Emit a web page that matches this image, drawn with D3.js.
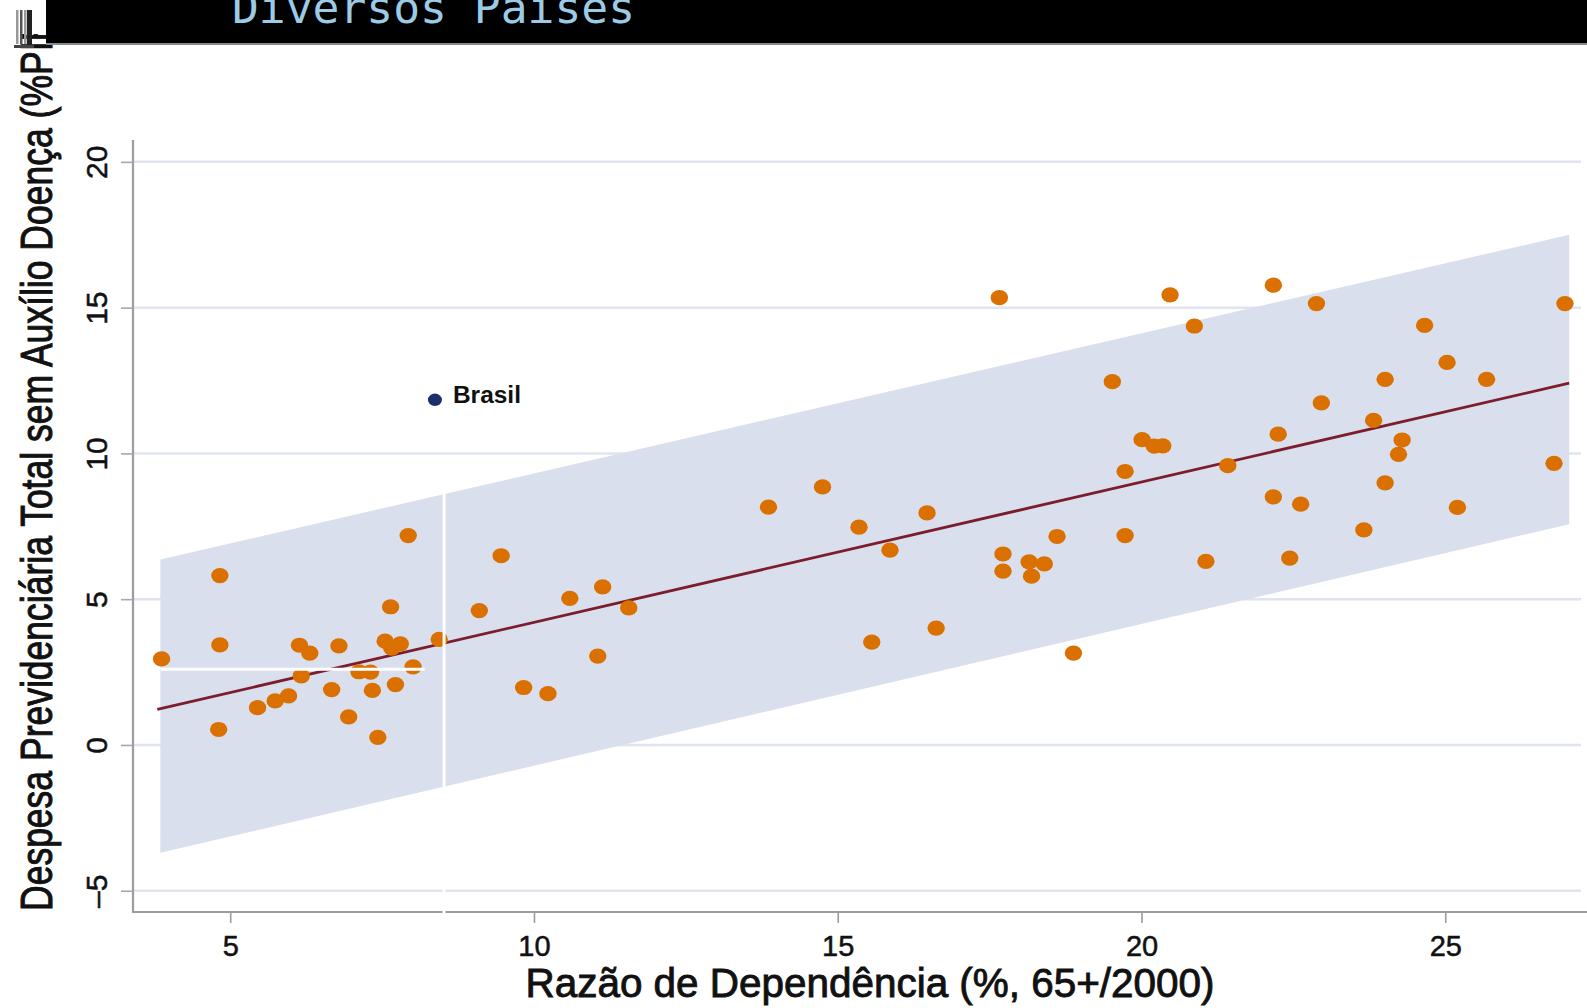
<!DOCTYPE html>
<html>
<head>
<meta charset="utf-8">
<script src="https://cdn.jsdelivr.net/npm/d3@7"></script>
<style>
  html, body { margin: 0; padding: 0; background: #ffffff; overflow: hidden; }
  svg { display: block; }
</style>
</head>
<body>
<script>
// Dependency ratio (% of 65+ in 2000) vs. total pension spending excluding sickness benefits (% GDP)
const dependencyRatio = [
  3.87, 4.83, 4.83, 4.81, 5.45, 5.74, 5.96, 6.14, 6.31, 6.17,
  6.67, 6.79, 6.95, 7.12, 7.31, 7.34, 7.43, 7.55, 7.64, 7.66,
  7.80, 7.72, 7.93, 8.01, 8.44, 9.10, 9.46, 9.83, 10.23, 10.59,
  11.05, 11.13, 11.56, 13.86, 14.75, 15.35, 15.56, 15.86, 16.47, 16.62,
  17.66, 17.72, 17.72, 18.15, 18.19, 18.40, 18.61, 18.88, 19.52, 19.73,
  19.73, 20.01, 20.21, 20.35, 20.47, 20.87, 21.06, 21.42, 22.17, 22.17,
  22.25, 22.44, 22.62, 22.88, 22.96, 23.66, 23.82, 24.01, 24.01, 24.23,
  24.29, 24.66, 25.03, 25.20, 25.68, 26.79, 26.97
];
const pensionSpending = [
  2.95, 5.81, 3.43, 0.53, 1.28, 1.51, 1.68, 3.42, 3.15, 2.37,
  1.90, 3.40, 0.96, 2.51, 2.50, 1.87, 0.26, 3.56, 4.74, 3.32,
  3.47, 2.07, 7.18, 2.68, 3.62, 4.61, 6.49, 1.97, 1.76, 5.03,
  3.05, 5.42, 4.70, 8.16, 8.85, 7.47, 3.53, 6.68, 7.96, 4.01,
  15.34, 6.55, 5.96, 6.28, 5.79, 6.21, 7.15, 3.15, 12.46, 9.38,
  7.18, 10.47, 10.25, 10.26, 15.44, 14.37, 6.30, 9.58, 15.77, 8.51,
  10.66, 6.41, 8.26, 15.14, 11.73, 7.38, 11.13, 12.54, 8.99, 9.97,
  10.46, 14.39, 13.12, 8.15, 12.54, 9.66, 15.14
];

// Highlighted country
const highlightName = ["Brasil"];
const highlightX = [8.37];
const highlightY = [11.84];

// Linear fit and its prediction band
const fitX = [3.8, 27.04];
const fitY = [1.22, 12.41];
const bandX = [3.85, 27.04];
const bandUpper = [6.36, 17.50];
const bandLower = [-3.70, 7.57];

// Axis ticks
const xTicks = [5, 10, 15, 20, 25];
const yTicks = [-5, 0, 5, 10, 15, 20];

const chartTitle = "Diversos Países";
const xTitle = "Razão de Dependência (%, 65+/2000)";
const yTitle = "Despesa Previdenciária Total sem Auxílio Doença (%PIB)";

const W = 1587, H = 1008;
const plot = { left: 133, right: 1585, top: 140, bottom: 912 };

const svg = d3.select("body").append("svg")
  .attr("width", W).attr("height", H);

const x = d3.scaleLinear().domain([3.4, 27.3]).range([plot.left, plot.right]);
const y = d3.scaleLinear().domain([-5.73, 20.75]).range([plot.bottom, plot.top]);

const sansFont = "'Liberation Sans Narrow', 'Liberation Sans', Arial, sans-serif";
const ink = "#111";

// Horizontal grid lines
svg.append("g").selectAll("line").data(yTicks).join("line")
  .attr("x1", plot.left).attr("x2", 1581)
  .attr("y1", d => y(d)).attr("y2", d => y(d))
  .attr("stroke", "#dfe4ef").attr("stroke-width", 2.5);

// Prediction band
const bandData = bandX.map((bx, i) => ({ x: bx, lo: bandLower[i], hi: bandUpper[i] }));
svg.append("path").datum(bandData)
  .attr("d", d3.area().x(d => x(d.x)).y0(d => y(d.lo)).y1(d => y(d.hi)))
  .attr("fill", "#d9dfec");

// Fitted line
const fitData = fitX.map((fx, i) => ({ x: fx, y: fitY[i] }));
svg.append("path").datum(fitData)
  .attr("d", d3.line().x(d => x(d.x)).y(d => y(d.y)))
  .attr("fill", "none").attr("stroke", "#7c1d2e").attr("stroke-width", 2.8);

// Country points
const pts = dependencyRatio.map((dx, i) => ({ x: dx, y: pensionSpending[i] }));
svg.append("g").selectAll("ellipse").data(pts).join("ellipse")
  .attr("cx", d => x(d.x)).attr("cy", d => y(d.y))
  .attr("rx", 8.7).attr("ry", 7.6)
  .attr("fill", "#d97000");

// Highlighted point and label
const hl = highlightX.map((hx, i) => ({ x: hx, y: highlightY[i], name: highlightName[i] }));
svg.append("g").selectAll("ellipse").data(hl).join("ellipse")
  .attr("cx", d => x(d.x)).attr("cy", d => y(d.y))
  .attr("rx", 7).attr("ry", 6.2)
  .attr("fill", "#1c2f6b");
svg.append("g").selectAll("text").data(hl).join("text")
  .attr("x", d => x(d.x) + 18).attr("y", d => y(d.y) + 3)
  .attr("font-family", sansFont).attr("font-weight", "bold")
  .attr("font-size", 24).attr("fill", ink)
  .attr("textLength", 68).attr("lengthAdjust", "spacingAndGlyphs")
  .text(d => d.name);

// Crosshair lines left over on the plot area
svg.append("line")
  .attr("x1", x(8.52)).attr("x2", x(8.52))
  .attr("y1", y(9.9)).attr("y2", plot.bottom + 4)
  .attr("stroke", "#ffffff").attr("stroke-width", 3);
svg.append("line")
  .attr("x1", x(3.85)).attr("x2", x(8.2))
  .attr("y1", y(2.6)).attr("y2", y(2.6))
  .attr("stroke", "#ffffff").attr("stroke-width", 3);

// Axis lines
svg.append("line")
  .attr("x1", plot.left).attr("x2", plot.left)
  .attr("y1", plot.top).attr("y2", plot.bottom + 1)
  .attr("stroke", "#9c9c9c").attr("stroke-width", 2.2);
svg.append("line")
  .attr("x1", plot.left - 1).attr("x2", W)
  .attr("y1", plot.bottom).attr("y2", plot.bottom)
  .attr("stroke", "#9c9c9c").attr("stroke-width", 2.2);
// Gap in the bottom axis where the crosshair crosses
svg.append("line")
  .attr("x1", x(8.52)).attr("x2", x(8.52))
  .attr("y1", plot.bottom - 2).attr("y2", plot.bottom + 2)
  .attr("stroke", "#ffffff").attr("stroke-width", 3);

// X axis ticks and labels
const xAxis = d3.axisBottom(x).tickValues(xTicks).tickSize(10).tickPadding(12).tickFormat(d3.format("d"));
const gx = svg.append("g").attr("transform", `translate(0,${plot.bottom + 1})`).call(xAxis);
gx.select(".domain").remove();
gx.selectAll(".tick line").attr("stroke", "#9c9c9c").attr("stroke-width", 1.6);
gx.selectAll(".tick text")
  .attr("font-family", sansFont).attr("font-size", 29).attr("fill", ink)
  .attr("stroke", ink).attr("stroke-width", 0.5)
  .attr("dy", "0.72em");

// Y axis ticks and rotated labels
const yAxis = d3.axisLeft(y).tickValues(yTicks).tickSize(12).tickFormat(d => d < 0 ? "–" + Math.abs(d) : String(d));
const gy = svg.append("g").attr("transform", `translate(${plot.left},0)`).call(yAxis);
gy.select(".domain").remove();
gy.selectAll(".tick line").attr("stroke", "#a8a8a8").attr("stroke-width", 1.6);
gy.selectAll(".tick text")
  .attr("font-family", sansFont).attr("font-size", 30).attr("fill", ink)
  .attr("stroke", ink).attr("stroke-width", 0.5)
  .attr("text-anchor", "middle").attr("x", 0).attr("dy", 0)
  .attr("transform", "translate(-26,0) rotate(-90)");

// Axis titles
svg.append("text")
  .attr("x", 870).attr("y", 997)
  .attr("text-anchor", "middle")
  .attr("font-family", sansFont).attr("font-size", 40).attr("fill", ink)
  .attr("stroke", ink).attr("stroke-width", 0.9)
  .attr("textLength", 689).attr("lengthAdjust", "spacingAndGlyphs")
  .text(xTitle);

svg.append("text")
  .attr("transform", "translate(52,911) rotate(-90)")
  .attr("x", 0).attr("y", 0)
  .attr("text-anchor", "start")
  .attr("font-family", sansFont).attr("font-size", 45).attr("fill", ink)
  .attr("stroke", ink).attr("stroke-width", 1)
  .attr("textLength", 905).attr("lengthAdjust", "spacingAndGlyphs")
  .text(yTitle);

// Header bar with title
svg.append("rect").attr("x", 46).attr("y", 0).attr("width", W - 46).attr("height", 43).attr("fill", "#000");
svg.append("line").attr("x1", 46).attr("x2", W).attr("y1", 44).attr("y2", 44)
  .attr("stroke", "#8a8a8a").attr("stroke-width", 2);
svg.append("rect").attr("x", 0).attr("y", 0).attr("width", 46).attr("height", 34).attr("fill", "#fff");
svg.append("text")
  .attr("x", 232).attr("y", 23)
  .attr("font-family", "'DejaVu Sans Mono', monospace").attr("font-size", 44)
  .attr("fill", "#9ccbe6")
  .attr("textLength", 403).attr("lengthAdjust", "spacingAndGlyphs")
  .text(chartTitle);

// Small window grip at the top-left corner
const grip = svg.append("g");
[16, 20, 24].forEach((gxp, i) => {
  grip.append("rect").attr("x", gxp).attr("y", 10).attr("width", 2.5).attr("height", 34)
    .attr("fill", i === 1 ? "#555" : "#999");
});
grip.append("rect").attr("x", 27).attr("y", 10).attr("width", 5).attr("height", 36).attr("fill", "#222");
grip.append("rect").attr("x", 14).attr("y", 45).attr("width", 20).attr("height", 3).attr("fill", "#444");
</script>
</body>
</html>
